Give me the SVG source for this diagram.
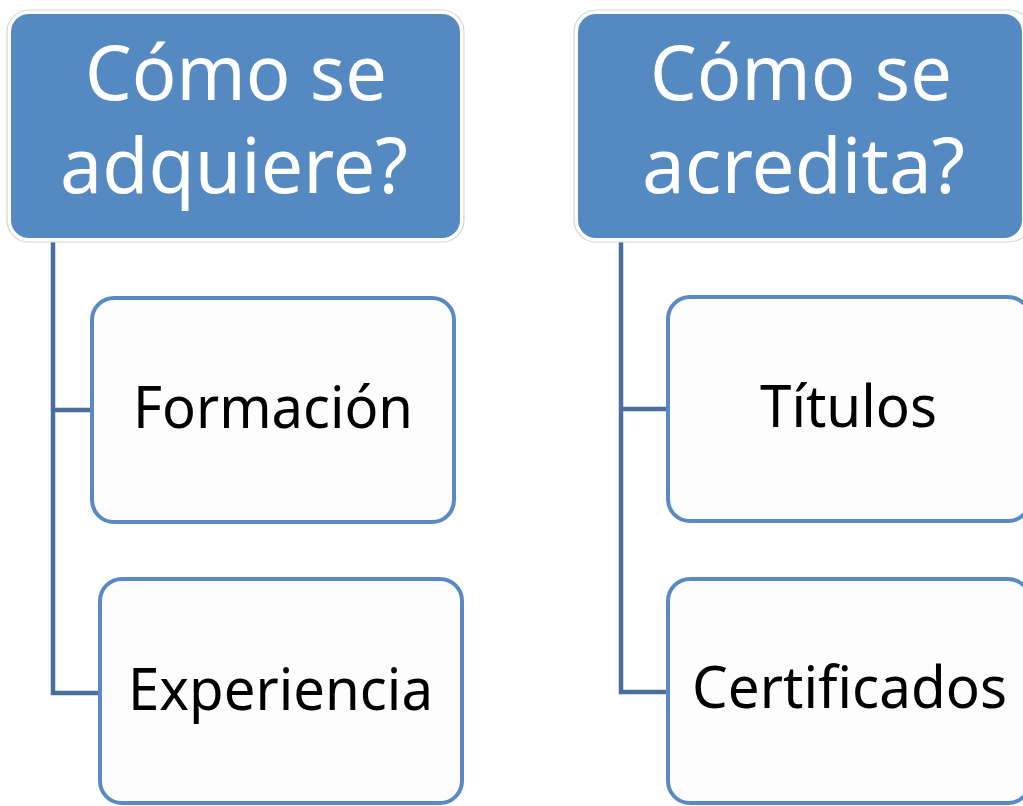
<svg xmlns="http://www.w3.org/2000/svg" width="1023" height="806" viewBox="0 0 1023 806">
<style>
.outer{fill:#ffffff;stroke:#d6d6d6;stroke-width:1.2}
.head{fill:#5589c1}
.child{fill:#fdfdfd;stroke:#5a8ac6;stroke-width:4}
.conn{fill:none;stroke:#4a6f9e;stroke-width:4.5;stroke-linejoin:miter}
.ht{font-family:"Noto Sans","Open Sans",sans-serif;font-size:76px;fill:#ffffff}
.ct{font-family:"Noto Sans","Open Sans",sans-serif;font-size:58px;fill:#000000}
</style>
<rect width="1023" height="806" fill="#ffffff"/>
<g id="connectors">
<path class="conn" d="M53 240 V693 H100 M53 410 H92"/>
<path class="conn" d="M621 240 V692 H668 M621 409 H668"/>
</g>
<g id="head1">
<rect class="outer" x="7" y="10" width="457" height="232" rx="22"/>
<rect class="head" x="11" y="14" width="449" height="224" rx="18"/>
<text class="ht" x="85" y="100" textLength="302" lengthAdjust="spacingAndGlyphs">Cómo se</text>
<text class="ht" x="60" y="193" textLength="348" lengthAdjust="spacingAndGlyphs">adquiere?</text>
</g>
<g id="head2">
<rect class="outer" x="574" y="10" width="457" height="232" rx="22"/>
<rect class="head" x="578" y="14" width="444" height="224" rx="18"/>
<text class="ht" x="650" y="100" textLength="302" lengthAdjust="spacingAndGlyphs">Cómo se</text>
<text class="ht" x="642" y="193" textLength="323" lengthAdjust="spacingAndGlyphs">acredita?</text>
</g>
<g id="formacion">
<rect class="child" x="92" y="298" width="362" height="224" rx="22"/>
<text class="ct" x="133" y="428" textLength="280" lengthAdjust="spacingAndGlyphs">Formación</text>
</g>
<g id="experiencia">
<rect class="child" x="100" y="579" width="362" height="224" rx="22"/>
<text class="ct" x="128" y="710" textLength="305" lengthAdjust="spacingAndGlyphs">Experiencia</text>
</g>
<g id="titulos">
<rect class="child" x="668" y="297" width="362" height="224" rx="22"/>
<text class="ct" x="760" y="427" textLength="177" lengthAdjust="spacingAndGlyphs">Títulos</text>
</g>
<g id="certificados">
<rect class="child" x="668" y="579" width="362" height="224" rx="22"/>
<text class="ct" x="692" y="708" textLength="315" lengthAdjust="spacingAndGlyphs">Certificados</text>
</g>
</svg>
